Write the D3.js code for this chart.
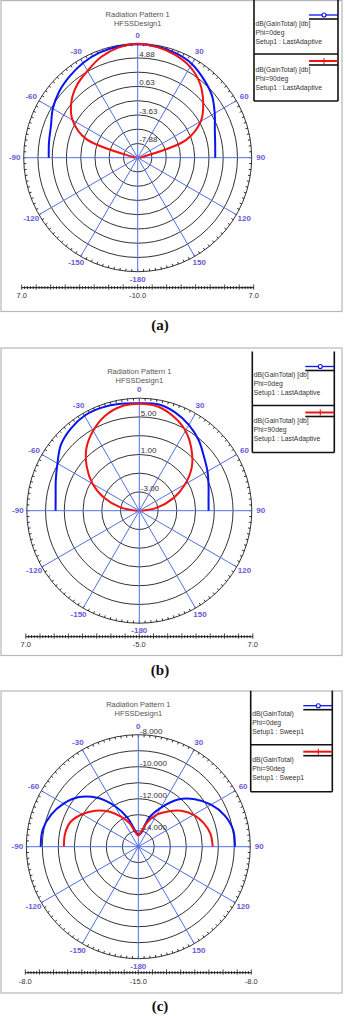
<!DOCTYPE html>
<html>
<head>
<meta charset="utf-8">
<script src="https://cdn.jsdelivr.net/npm/d3@7"></script>
<style>
  body{margin:0;background:#fff;}
  svg{display:block;font-family:"Liberation Sans",Arial,sans-serif;}
</style>
</head>
<body>
<svg id="chart" width="345" height="1016"></svg>
<script>
// theta samples (deg) shared by every trace
const angles=[-90,-80,-70,-60,-50,-40,-30,-20,-10,0,10,20,30,40,50,60,70,80,90];
const spokeAngles=[0,30,60,90,120,150,180,-150,-120,-90,-60,-30];
const spokeLabels=["0","30","60","90","120","150","-180","-150","-120","-90","-60","-30"];

// (a) dB(GainTotal), LastAdaptive
const aBlue=[3.26,3.43,3.77,4.62,5.3,5.81,6.32,6.66,6.83,6.92,6.83,6.58,6.15,5.3,4.45,3.26,2.24,1.73,1.56];
const aRed=[-9.66,-9.15,-1.8,1.22,2.92,4.11,4.96,5.98,6.66,7.0,6.75,6.32,5.64,4.45,2.75,0.88,-2.35,-9.15,-9.66];
const aRings=[7,4.875,2.75,0.625,-1.5,-3.625,-5.75,-7.875];
const aRingLabels=["4.88","0.63","-3.63","-7.88"];
const aRingLabelValues=[4.875,0.625,-3.625,-7.875];
const aAxisLabels=["7.0","-10.0","7.0"];

// (b)
const bBlue=[3.93,4.06,4.48,5.08,5.92,6.4,6.7,6.7,6.58,6.46,6.52,6.16,5.56,4.84,4.0,3.4,2.86,2.5,2.39];
const bRed=[-4.76,-2.96,-1.04,0.76,2.32,3.76,4.84,5.74,6.28,6.4,6.28,5.68,4.84,3.64,2.32,0.64,-1.16,-3.08,-4.76];
const bRings=[7,5,3,1,-1,-3];
const bRingLabels=["5.00","1.00","-3.00"];
const bRingLabelValues=[5,1,-3];
const bAxisLabels=["7.0","-5.0","7.0"];

// (c) Sweep1
const cBlue=[-8.9,-8.93,-9.19,-9.61,-10.17,-11.01,-12.06,-13.11,-14.02,-14.23,-14.16,-13.11,-12.2,-11.15,-10.38,-9.75,-9.26,-8.98,-8.96];
const cRed=[-10.35,-10.35,-10.49,-10.94,-11.5,-12.13,-12.83,-13.46,-14.13,-14.3,-14.09,-13.39,-12.69,-12.13,-11.5,-11.01,-10.66,-10.42,-10.35];
const cRings=[-8,-9,-10,-11,-12,-13,-14];
const cRingLabels=["-8.000","-10.000","-12.000","-14.000"];
const cRingLabelValues=[-8,-10,-12,-14];
const cAxisLabels=["-8.0","-15.0","-8.0"];

const legendAB=[["dB(GainTotal) [db]","Phi=0deg","Setup1 : LastAdaptive"],["dB(GainTotal) [db]","Phi=90deg","Setup1 : LastAdaptive"]];
const legendC=[["dB(GainTotal)","Phi=0deg","Setup1 : Sweep1"],["dB(GainTotal)","Phi=90deg","Setup1 : Sweep1"]];

const svg=d3.select("#chart");
const rad=a=>a*Math.PI/180;
const BLUE="#0a14f0", RED="#f01414", SPOKE="#5170e4", LABEL="#6a58d4";

function drawPanel(p){
  const g=svg.append("g");
  g.append("rect")
    .attr("x",p.frame[0]).attr("y",p.frame[1])
    .attr("width",p.frame[2]-p.frame[0]).attr("height",p.frame[3]-p.frame[1])
    .attr("fill","none").attr("stroke","#b8b8b8").attr("stroke-width",1.2);

  // titles
  g.selectAll(".ttl").data(["Radiation Pattern 1","HFSSDesign1"]).join("text")
    .attr("x",p.cx).attr("y",(d,i)=>p.titleY[i])
    .attr("text-anchor","middle").attr("dominant-baseline","middle")
    .attr("font-size",7.5).attr("fill","#555").text(d=>d);

  const r=d3.scaleLinear().domain([p.min,p.max]).range([0,p.R]).clamp(true);
  const pg=g.append("g").attr("transform",`translate(${p.cx},${p.cy})`);

  pg.selectAll(".ring").data(p.rings).join("circle")
    .attr("r",d=>r(d)).attr("fill","none")
    .attr("stroke","#1c1c1c").attr("stroke-width",0.9);

  // small ticks round the outer ring
  pg.selectAll(".otick").data(d3.range(0,360,3)).join("line")
    .attr("x1",d=>(p.R-2.4)*Math.sin(rad(d))).attr("y1",d=>-(p.R-2.4)*Math.cos(rad(d)))
    .attr("x2",d=>p.R*Math.sin(rad(d))).attr("y2",d=>-p.R*Math.cos(rad(d)))
    .attr("stroke","#1c1c1c").attr("stroke-width",0.9);

  pg.selectAll(".spoke").data(spokeAngles).join("line")
    .attr("x2",d=>p.R*Math.sin(rad(d))).attr("y2",d=>-p.R*Math.cos(rad(d)))
    .attr("stroke",SPOKE).attr("stroke-width",1);

  pg.selectAll(".alab").data(spokeAngles).join("text")
    .attr("x",d=>(p.R+9)*Math.sin(rad(d))).attr("y",d=>-(p.R+8)*Math.cos(rad(d)))
    .attr("text-anchor","middle").attr("dominant-baseline","middle")
    .attr("font-size",8).attr("font-weight","bold").attr("fill",LABEL)
    .text((d,i)=>spokeLabels[i]);

  pg.selectAll(".rlab").data(p.ringLabelValues).join("text")
    .attr("x",1.5).attr("y",d=>-r(d)-1)
    .attr("font-size",8).attr("fill","#333")
    .text((d,i)=>p.ringLabels[i]);

  const line=d3.lineRadial()
    .angle((d,i)=>rad(angles[i]))
    .radius(d=>r(d))
    .curve(d3.curveCatmullRom.alpha(0.5));
  pg.append("path").attr("d",line(p.blue))
    .attr("fill","none").attr("stroke",BLUE).attr("stroke-width",2);
  pg.append("path").attr("d",line(p.red))
    .attr("fill","none").attr("stroke",RED).attr("stroke-width",2);

  // legend
  const lg=g.append("g").attr("transform",`translate(0,${p.legY})`);
  const [x0,x1]=p.leg;
  lg.append("line").attr("x1",x0).attr("x2",x0).attr("y1",0).attr("y2",101)
    .attr("stroke","#111").attr("stroke-width",1.6);
  lg.append("line").attr("x1",x1).attr("x2",x1).attr("y1",0).attr("y2",101)
    .attr("stroke","#111").attr("stroke-width",1.6);
  [54,101].forEach(y=>lg.append("line").attr("x1",x0).attr("x2",x1).attr("y1",y).attr("y2",y)
    .attr("stroke","#111").attr("stroke-width",1.6));
  p.legend.forEach((lines,k)=>{
    const oy=k*46, col=k?RED:BLUE;
    lg.append("line").attr("x1",x1-29).attr("x2",x1).attr("y1",oy+19).attr("y2",oy+19)
      .attr("stroke","#111").attr("stroke-width",1.6);
    lg.append("line").attr("x1",x1-29).attr("x2",x1).attr("y1",oy+15).attr("y2",oy+15)
      .attr("stroke",col).attr("stroke-width",k?2:1.3);
    if(k===0){
      lg.append("circle").attr("cx",x1-14).attr("cy",oy+15).attr("r",2)
        .attr("fill","#fff").attr("stroke",col).attr("stroke-width",1.1);
    }else{
      lg.append("line").attr("x1",x1-14).attr("x2",x1-14).attr("y1",oy+12).attr("y2",oy+18)
        .attr("stroke",col).attr("stroke-width",1.1);
    }
    lg.selectAll(null).data(lines).join("text")
      .attr("x",x0+1.5).attr("y",(d,i)=>oy+24+i*9)
      .attr("dominant-baseline","middle")
      .attr("font-size",6.8).attr("fill","#333").text(d=>d);
  });

  // linear dB ruler under the plot
  const ax=d3.scaleLinear().domain([0,80]).range([p.cx-p.axisHalf,p.cx+p.axisHalf]);
  const ag=g.append("g").attr("transform",`translate(0,${p.axisY})`);
  ag.append("line").attr("x1",ax(0)).attr("x2",ax(80)).attr("stroke","#111").attr("stroke-width",1);
  ag.selectAll(".at").data(d3.range(0,81)).join("line")
    .attr("x1",d=>ax(d)).attr("x2",d=>ax(d))
    .attr("y1",d=>d%5===0?-3.2:-1.6).attr("y2",d=>d%5===0?2:1.4)
    .attr("stroke","#111").attr("stroke-width",0.8);
  ag.selectAll(".al").data([0,40,80]).join("text")
    .attr("x",d=>ax(d)).attr("y",p.axisLabelY-p.axisY)
    .attr("text-anchor","middle").attr("dominant-baseline","middle")
    .attr("font-size",7.5).attr("fill","#333")
    .text((d,i)=>p.axisLabels[i]);

  g.append("text").attr("x",160).attr("y",p.captionY)
    .attr("text-anchor","middle").attr("dominant-baseline","middle")
    .attr("font-family","'Liberation Serif','Times New Roman',serif")
    .attr("font-weight","bold").attr("font-size",15).attr("fill","#111")
    .text(p.caption);
}

drawPanel({frame:[1,0.6,342,311.5],cx:137.7,cy:157.7,R:114,min:-10,max:7,
  rings:aRings,ringLabels:aRingLabels,ringLabelValues:aRingLabelValues,
  blue:aBlue,red:aRed,titleY:[15,24],leg:[254,338],legY:0,legend:legendAB,
  axisY:287.7,axisHalf:116,axisLabelY:296,axisLabels:aAxisLabels,captionY:327,caption:"(a)"});

drawPanel({frame:[1,348,342,655.5],cx:139.3,cy:510.7,R:112.5,min:-5,max:7,
  rings:bRings,ringLabels:bRingLabels,ringLabelValues:bRingLabelValues,
  blue:bBlue,red:bRed,titleY:[371.7,380.7],leg:[252.3,334.3],legY:351.5,legend:legendAB,
  axisY:636.7,axisHalf:113.5,axisLabelY:645,axisLabels:bAxisLabels,captionY:672,caption:"(b)"});

drawPanel({frame:[1,691,342,993],cx:138.3,cy:846.7,R:112,min:-15,max:-8,
  rings:cRings,ringLabels:cRingLabels,ringLabelValues:cRingLabelValues,
  blue:cBlue,red:cRed,titleY:[705,714.3],leg:[250.7,332.3],legY:690.7,legend:legendC,
  axisY:972.7,axisHalf:113,axisLabelY:981.7,axisLabels:cAxisLabels,captionY:1008,caption:"(c)"});
</script>
</body>
</html>
